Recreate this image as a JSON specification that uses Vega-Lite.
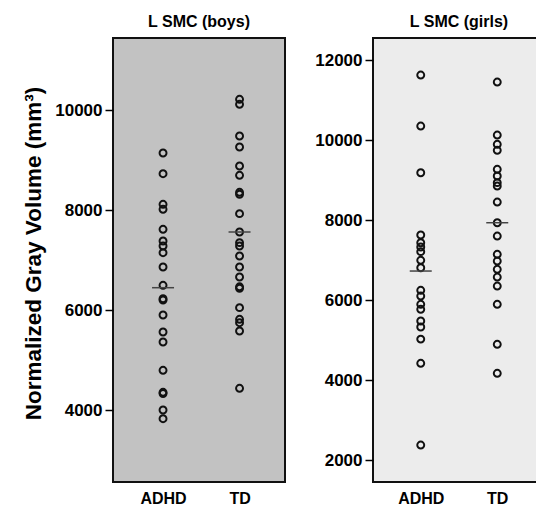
{
  "$schema": "https://vega.github.io/schema/vega-lite/v6.json",
  "padding": {"left": 21, "top": 13, "right": 0, "bottom": 0},
  "background": "white",
  "config": {
    "font": "Liberation Sans",
    "view": {"stroke": "#111", "strokeWidth": 2},
    "axis": {"domain": false, "grid": false, "labelFont": "Liberation Sans", "labelFontWeight": "bold", "labelColor": "#000", "tickColor": "#000", "titleFont": "Liberation Sans", "titleFontWeight": "bold", "titleColor": "#000"},
    "axisX": {"ticks": false, "labelFontSize": 16, "labelPadding": 8, "labelAngle": 0},
    "axisY": {"tickSize": 8, "tickWidth": 1.5, "labelFontSize": 17, "labelPadding": 3, "titleFontSize": 22.5, "titlePadding": 9, "format": "d"},
    "title": {"font": "Liberation Sans", "fontSize": 16, "fontWeight": "bold", "color": "#000", "frame": "group", "anchor": "middle", "offset": 8}
  },
  "datasets": {
    "boys": [
      {"group": "ADHD", "value": 9146}, {"group": "ADHD", "value": 8732}, {"group": "ADHD", "value": 8120}, {"group": "ADHD", "value": 8020},
      {"group": "ADHD", "value": 7620}, {"group": "ADHD", "value": 7386}, {"group": "ADHD", "value": 7286}, {"group": "ADHD", "value": 7152},
      {"group": "ADHD", "value": 6866}, {"group": "ADHD", "value": 6500}, {"group": "ADHD", "value": 6232}, {"group": "ADHD", "value": 6205},
      {"group": "ADHD", "value": 5906}, {"group": "ADHD", "value": 5566}, {"group": "ADHD", "value": 5366}, {"group": "ADHD", "value": 4800},
      {"group": "ADHD", "value": 4360}, {"group": "ADHD", "value": 4335}, {"group": "ADHD", "value": 4006}, {"group": "ADHD", "value": 3832},
      {"group": "TD", "value": 10220}, {"group": "TD", "value": 10120}, {"group": "TD", "value": 9486}, {"group": "TD", "value": 9266},
      {"group": "TD", "value": 8886}, {"group": "TD", "value": 8700}, {"group": "TD", "value": 8360}, {"group": "TD", "value": 8320},
      {"group": "TD", "value": 7933}, {"group": "TD", "value": 7566}, {"group": "TD", "value": 7353}, {"group": "TD", "value": 7286},
      {"group": "TD", "value": 7086}, {"group": "TD", "value": 6866}, {"group": "TD", "value": 6666}, {"group": "TD", "value": 6470},
      {"group": "TD", "value": 6440}, {"group": "TD", "value": 6053}, {"group": "TD", "value": 5820}, {"group": "TD", "value": 5752},
      {"group": "TD", "value": 5586}, {"group": "TD", "value": 4440}
    ],
    "boysMean": [
      {"group": "ADHD", "value": 6452}, {"group": "TD", "value": 7566}
    ],
    "girls": [
      {"group": "ADHD", "value": 11632}, {"group": "ADHD", "value": 10357}, {"group": "ADHD", "value": 9190}, {"group": "ADHD", "value": 7633},
      {"group": "ADHD", "value": 7440}, {"group": "ADHD", "value": 7333}, {"group": "ADHD", "value": 7217}, {"group": "ADHD", "value": 7000},
      {"group": "ADHD", "value": 6815}, {"group": "ADHD", "value": 6250}, {"group": "ADHD", "value": 6107}, {"group": "ADHD", "value": 5900},
      {"group": "ADHD", "value": 5775}, {"group": "ADHD", "value": 5483}, {"group": "ADHD", "value": 5333}, {"group": "ADHD", "value": 5030},
      {"group": "ADHD", "value": 4425}, {"group": "ADHD", "value": 2382},
      {"group": "TD", "value": 11457}, {"group": "TD", "value": 10132}, {"group": "TD", "value": 9900}, {"group": "TD", "value": 9750},
      {"group": "TD", "value": 9275}, {"group": "TD", "value": 9108}, {"group": "TD", "value": 8942}, {"group": "TD", "value": 8857},
      {"group": "TD", "value": 8457}, {"group": "TD", "value": 7940}, {"group": "TD", "value": 7607}, {"group": "TD", "value": 7150},
      {"group": "TD", "value": 6982}, {"group": "TD", "value": 6775}, {"group": "TD", "value": 6582}, {"group": "TD", "value": 6357},
      {"group": "TD", "value": 5900}, {"group": "TD", "value": 4900}, {"group": "TD", "value": 4175}
    ],
    "girlsMean": [
      {"group": "ADHD", "value": 6732}, {"group": "TD", "value": 7940}
    ]
  },
  "spacing": 27,
  "hconcat": [
    {
      "width": 172,
      "height": 444,
      "view": {"fill": "#c2c2c2"},
      "title": {"text": "L SMC (boys)"},
      "layer": [
        {
          "data": {"name": "boys"},
          "mark": {"type": "point", "filled": false, "stroke": "#111", "strokeWidth": 2, "size": 48, "opacity": 1},
          "encoding": {
            "x": {"field": "group", "type": "nominal", "sort": ["ADHD", "TD"], "scale": {"type": "point", "padding": 0.624, "align": 0.524}, "axis": {"title": null}},
            "y": {"field": "value", "type": "quantitative", "scale": {"domain": [2566, 11446], "nice": false, "zero": false}, "axis": {"values": [4000, 6000, 8000, 10000], "title": "Normalized Gray Volume (mm³)", "titleY": 215}}
          }
        },
        {
          "data": {"name": "boysMean"},
          "mark": {"type": "tick", "size": 22, "thickness": 1.5, "color": "#444", "opacity": 1},
          "encoding": {
            "x": {"field": "group", "type": "nominal", "sort": ["ADHD", "TD"]},
            "y": {"field": "value", "type": "quantitative"}
          }
        }
      ]
    },
    {
      "width": 172,
      "height": 444,
      "view": {"fill": "#ececec"},
      "title": {"text": "L SMC (girls)"},
      "layer": [
        {
          "data": {"name": "girls"},
          "mark": {"type": "point", "filled": false, "stroke": "#111", "strokeWidth": 2, "size": 48, "opacity": 1},
          "encoding": {
            "x": {"field": "group", "type": "nominal", "sort": ["ADHD", "TD"], "scale": {"type": "point", "padding": 0.624, "align": 0.5}, "axis": {"title": null}},
            "y": {"field": "value", "type": "quantitative", "scale": {"domain": [1458, 12558], "nice": false, "zero": false}, "axis": {"values": [2000, 4000, 6000, 8000, 10000, 12000], "title": null}}
          }
        },
        {
          "data": {"name": "girlsMean"},
          "mark": {"type": "tick", "size": 22, "thickness": 1.5, "color": "#444", "opacity": 1},
          "encoding": {
            "x": {"field": "group", "type": "nominal", "sort": ["ADHD", "TD"]},
            "y": {"field": "value", "type": "quantitative"}
          }
        }
      ]
    }
  ]
}
